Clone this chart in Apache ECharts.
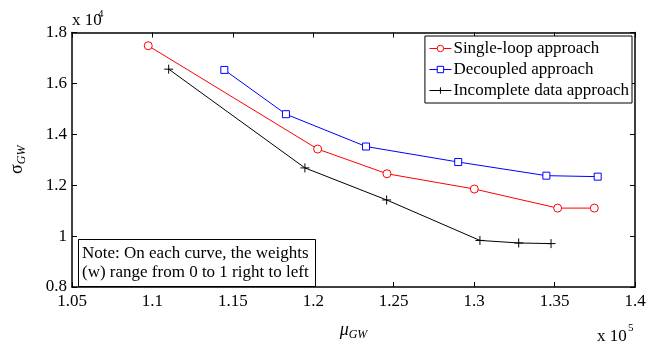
<!DOCTYPE html>
<html>
<head>
<meta charset="utf-8">
<script src="https://cdn.jsdelivr.net/npm/echarts@6/dist/echarts.min.js"></script>
<style>html,body{margin:0;padding:0;background:#fff}#c{width:662px;height:346px}</style>
</head>
<body>
<div id="c"></div>
<script>
// x in units of 1e5, y in units of 1e4
const singleLoopX = [1.0974, 1.2027, 1.2458, 1.3001, 1.3519, 1.3747];
const singleLoopY = [1.748, 1.342, 1.245, 1.185, 1.110, 1.110];
const decoupledX = [1.1447, 1.1830, 1.2328, 1.2901, 1.3449, 1.3768];
const decoupledY = [1.653, 1.479, 1.352, 1.291, 1.2375, 1.2336];
const incompleteX = [1.1101, 1.1948, 1.2456, 1.3036, 1.3277, 1.3478];
const incompleteY = [1.656, 1.268, 1.142, 0.983, 0.973, 0.9705];
const seriesNames = ['Single-loop approach', 'Decoupled approach', 'Incomplete data approach'];
const noteText = 'Note: On each curve, the weights\n(w) range from 0 to 1 right to left';

const zip = (xs, ys) => xs.map((x, i) => [x, ys[i]]);
const FONT = 'Liberation Serif';
const FS = 17;
const fmt = v => String(parseFloat(v.toFixed(4)));

const axisCommon = {
  axisLine: { show: true, onZero: false, lineStyle: { color: '#000', width: 1.5 } },
  axisTick: { show: true, inside: true, length: 5, lineStyle: { color: '#000', width: 1 } },
  splitLine: { show: false }
};

const chart = echarts.init(document.getElementById('c'), null, { renderer: 'canvas' });
chart.setOption({
  animation: false,
  backgroundColor: '#fff',
  grid: { left: 72, right: 27, top: 32.5, bottom: 51.3, containLabel: false },
  title: {
    text: noteText,
    left: 78, top: 239,
    padding: [5, 7, 5, 4],
    borderColor: '#000', borderWidth: 1, backgroundColor: '#fff',
    textStyle: { fontFamily: FONT, fontSize: FS, fontWeight: 'normal', color: '#000', lineHeight: 19 }
  },
  legend: {
    orient: 'vertical', right: 30, top: 36,
    backgroundColor: '#fff', borderColor: '#000', borderWidth: 1,
    padding: [2, 3, 2, 4], itemGap: 0, itemWidth: 22, itemHeight: 8,
    lineStyle: { width: 1 },
    itemStyle: { borderWidth: 1 },
    textStyle: { fontFamily: FONT, fontSize: FS, color: '#000', lineHeight: 21, padding: [0, 0, 0, -3] },
    data: seriesNames
  },
  xAxis: [
    Object.assign({}, axisCommon, {
      type: 'value', min: 1.05, max: 1.4, interval: 0.05, position: 'bottom',
      name: '{a|μ}{b|GW}', nameLocation: 'middle', nameGap: 32,
      nameTextStyle: { rich: {
        a: { fontFamily: FONT, fontSize: 18, fontStyle: 'italic', color: '#000' },
        b: { fontFamily: FONT, fontSize: 12, fontStyle: 'italic', color: '#000', padding: [10, 0, 0, 0] }
      } },
      axisLabel: { fontFamily: FONT, fontSize: FS, color: '#000', margin: 6, formatter: fmt }
    }),
    Object.assign({}, axisCommon, {
      type: 'value', min: 1.05, max: 1.4, interval: 0.05, position: 'top',
      axisLabel: { show: false }
    })
  ],
  yAxis: [
    Object.assign({}, axisCommon, {
      type: 'value', min: 0.8, max: 1.8, interval: 0.2, position: 'left',
      name: '{a|σ}{b|GW}', nameLocation: 'middle', nameGap: 44,
      nameTextStyle: { rich: {
        a: { fontFamily: FONT, fontSize: 18, color: '#000' },
        b: { fontFamily: FONT, fontSize: 12, fontStyle: 'italic', color: '#000', padding: [10, 0, 0, 0] }
      } },
      axisLabel: { fontFamily: FONT, fontSize: FS, color: '#000', margin: 5, formatter: fmt }
    }),
    Object.assign({}, axisCommon, {
      type: 'value', min: 0.8, max: 1.8, interval: 0.2, position: 'right',
      axisLabel: { show: false }
    })
  ],
  graphic: [
    { type: 'text', left: 72, top: 12, style: { text: 'x 10', font: '17px "Liberation Serif"', fill: '#000' } },
    { type: 'text', left: 98, top: 9, style: { text: '4', font: '11px "Liberation Serif"', fill: '#000' } },
    { type: 'text', left: 597, top: 328, style: { text: 'x 10', font: '17px "Liberation Serif"', fill: '#000' } },
    { type: 'text', left: 628, top: 323, style: { text: '5', font: '11px "Liberation Serif"', fill: '#000' } }
  ],
  series: [
    {
      name: seriesNames[0], type: 'line', data: zip(singleLoopX, singleLoopY),
      symbol: 'circle', symbolSize: 8, showAllSymbol: true,
      lineStyle: { color: '#ff0000', width: 1 },
      itemStyle: { color: '#fff', borderColor: '#ff0000', borderWidth: 1 }
    },
    {
      name: seriesNames[1], type: 'line', data: zip(decoupledX, decoupledY),
      symbol: 'rect', symbolSize: 7, showAllSymbol: true,
      lineStyle: { color: '#0000ff', width: 1 },
      itemStyle: { color: '#fff', borderColor: '#0000ff', borderWidth: 1 }
    },
    {
      name: seriesNames[2], type: 'line', data: zip(incompleteX, incompleteY),
      symbol: 'path://M5,0L5,10M0,5L10,5', symbolSize: 9, showAllSymbol: true,
      lineStyle: { color: '#000', width: 1 },
      itemStyle: { color: 'rgba(0,0,0,0)', borderColor: '#000', borderWidth: 1 }
    }
  ]
});
</script>
</body>
</html>
